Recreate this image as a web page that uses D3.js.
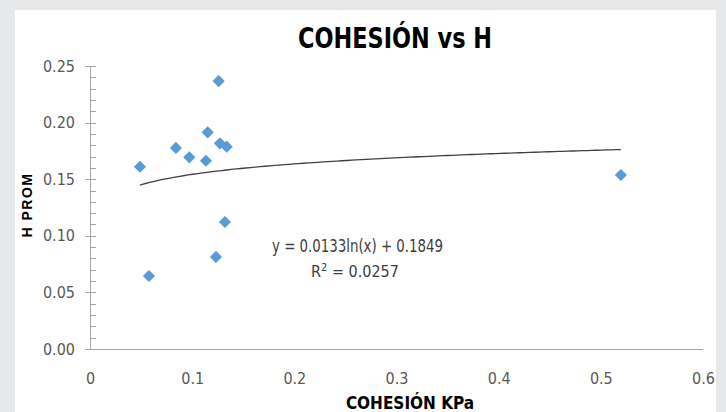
<!DOCTYPE html>
<html>
<head>
<meta charset="utf-8">
<script src="https://cdn.jsdelivr.net/npm/d3@7"></script>
<style>
  body { margin: 0; background: #e7e8ea; }
  svg { display: block; }
  .tick text { font-family: "Liberation Sans Narrow", "DejaVu Sans Condensed", sans-serif; }
</style>
</head>
<body>
<div id="graph"></div>
<script>
// cohesion (KPa) vs H PROM
var cohesion = [0.0489, 0.0577, 0.0841, 0.0972, 0.1135, 0.1152, 0.1233, 0.1259, 0.1272, 0.1321, 0.1338, 0.5196]
var hProm    = [0.161,  0.0645, 0.1776, 0.1693, 0.1663, 0.1914, 0.0813, 0.2367, 0.1817, 0.1122, 0.1787, 0.1537]

var xTicks = [0, 0.1, 0.2, 0.3, 0.4, 0.5, 0.6]
var yTicks = [0, 0.05, 0.10, 0.15, 0.20, 0.25]

// log trendline coefficients shown on the chart
var trendA = 0.0133, trendB = 0.1849
var equationText = "y = 0.0133ln(x) + 0.1849"
var r2Value = "0.0257"

var W = 726, H = 412
var font = '"Liberation Sans Narrow", "DejaVu Sans Condensed", sans-serif'

var svg = d3.select("#graph").append("svg")
    .attr("width", W)
    .attr("height", H)

svg.append("rect").attr("width", W).attr("height", H).attr("fill", "#e7e8ea")
svg.append("rect")
    .attr("x", 15).attr("y", 10)
    .attr("width", 701).attr("height", H - 10)
    .attr("fill", "#ffffff")

var x = d3.scaleLinear().domain([0, 0.6]).range([90, 703])
var y = d3.scaleLinear().domain([0, 0.25]).range([349, 66])

var axisColor = "#a6a6a6"

// y axis: major ticks cross the line, minor ticks inside
var yAxis = svg.append("g")
    .attr("transform", "translate(" + x(0) + ",0)")
    .call(d3.axisLeft(y).tickValues(yTicks).tickSize(0).tickPadding(15).tickFormat(d3.format(".2f")))
yAxis.select(".domain").remove()
yAxis.selectAll("text").attr("fill", "#595959").style("font-size", "16px")

svg.append("line")
    .attr("x1", x(0) + 0.5).attr("x2", x(0) + 0.5)
    .attr("y1", y(0.25)).attr("y2", y(0))
    .attr("stroke", axisColor)

svg.selectAll(".majortick")
    .data(yTicks)
    .enter().append("line")
    .attr("class", "majortick")
    .attr("x1", x(0) - 5).attr("x2", x(0) + 6)
    .attr("y1", function (d) { return Math.round(y(d)) + 0.5 })
    .attr("y2", function (d) { return Math.round(y(d)) + 0.5 })
    .attr("stroke", axisColor)

var minor = d3.range(1, 25).filter(function (i) { return i % 5 != 0 }).map(function (i) { return i / 100 })
svg.selectAll(".minortick")
    .data(minor)
    .enter().append("line")
    .attr("class", "minortick")
    .attr("x1", x(0)).attr("x2", x(0) + 6)
    .attr("y1", function (d) { return Math.round(y(d)) + 0.5 })
    .attr("y2", function (d) { return Math.round(y(d)) + 0.5 })
    .attr("stroke", axisColor)

// x axis
var xAxis = svg.append("g")
    .attr("transform", "translate(0," + y(0) + ")")
    .call(d3.axisBottom(x).tickValues(xTicks).tickSize(0).tickPadding(24).tickFormat(function (d) { return d === 0 ? "0" : d3.format(".1f")(d) }))
xAxis.select(".domain").remove()
xAxis.selectAll("text").attr("fill", "#595959").style("font-size", "16px")

svg.append("line")
    .attr("x1", x(0) - 5).attr("x2", x(0.6))
    .attr("y1", Math.round(y(0)) + 0.5).attr("y2", Math.round(y(0)) + 0.5)
    .attr("stroke", axisColor)

// trendline
var xMin = d3.min(cohesion), xMax = d3.max(cohesion)
var trend = d3.range(0, 101).map(function (i) {
    var v = xMin + (xMax - xMin) * i / 100
    return [v, trendA * Math.log(v) + trendB]
})
svg.append("path")
    .datum(trend)
    .attr("fill", "none")
    .attr("stroke", "#404040")
    .attr("stroke-width", 1.3)
    .attr("d", d3.line().x(function (d) { return x(d[0]) }).y(function (d) { return y(d[1]) }))

// points
var pts = cohesion.map(function (c, i) { return { x: c, y: hProm[i] } })
svg.selectAll(".dot")
    .data(pts)
    .enter().append("path")
    .attr("class", "dot")
    .attr("d", d3.symbol().type(d3.symbolDiamond2).size(95))
    .attr("transform", function (d) { return "translate(" + x(d.x) + "," + y(d.y) + ")" })
    .attr("fill", "#5b9bd5")

// equation labels
svg.append("text")
    .attr("x", 272).attr("y", 252)
    .attr("textLength", 171).attr("lengthAdjust", "spacingAndGlyphs")
    .style("font-family", font).style("font-size", "17px")
    .attr("fill", "#404040")
    .text(equationText)

var r2 = svg.append("text")
    .attr("x", 355).attr("y", 277)
    .attr("text-anchor", "middle")
    .style("font-family", font).style("font-size", "16px")
    .attr("fill", "#404040")
r2.append("tspan").text("R")
r2.append("tspan").attr("dy", -6).style("font-size", "11px").text("2")
r2.append("tspan").attr("dy", 6).text(" = " + r2Value)

// titles
svg.append("text")
    .attr("x", 298).attr("y", 48)
    .attr("textLength", 194).attr("lengthAdjust", "spacingAndGlyphs")
    .style("font-family", font).style("font-size", "28px").style("font-weight", "bold")
    .attr("fill", "#000")
    .text("COHESIÓN vs H")

svg.append("text")
    .attr("x", 410).attr("y", 409)
    .attr("text-anchor", "middle")
    .style("font-family", font).style("font-size", "17px").style("font-weight", "bold")
    .attr("fill", "#000")
    .text("COHESIÓN KPa")

svg.append("text")
    .attr("transform", "translate(32,205) rotate(-90)")
    .attr("text-anchor", "middle")
    .style("font-family", "Liberation Sans, Arial, sans-serif").style("font-size", "14px").style("font-weight", "bold")
    .style("letter-spacing", "1.5px")
    .attr("fill", "#000")
    .text("H PROM")
</script>
</body>
</html>
